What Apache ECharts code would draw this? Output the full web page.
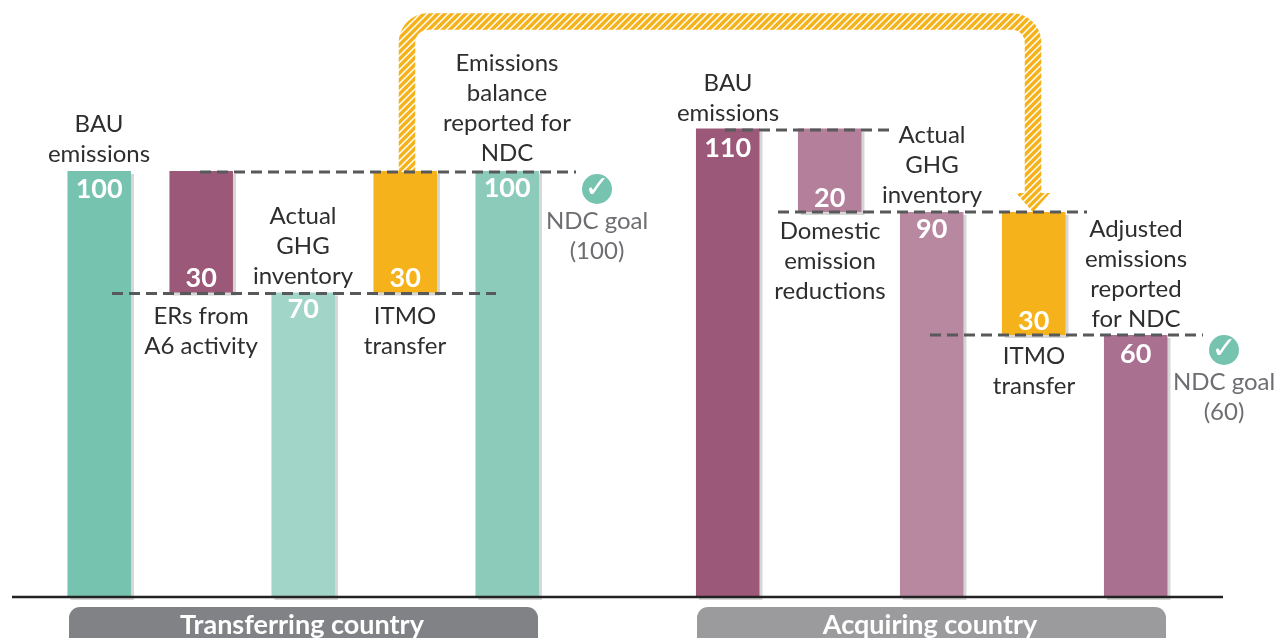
<!DOCTYPE html>
<html>
<head>
<meta charset="utf-8">
<title>ITMO transfer</title>
<script src="https://cdn.jsdelivr.net/npm/echarts@6/dist/echarts.min.js"></script>
<style>
  html, body { margin: 0; padding: 0; background: #fff; }
  #chart { width: 1286px; height: 638px; }
</style>
</head>
<body>
<div id="chart"></div>
<script>
// bar spans (they are schematic, not exactly to scale)
var leftLow = [0, 71.5, 0, 71.5, 0];
var leftHigh = [100, 100, 71.5, 100, 100];
var leftLabels = ['100', '30', '70', '30', '100'];
var rightLow = [0, 90.4, 0, 61.5, 0];
var rightHigh = [110, 110, 90.4, 90.4, 61.5];
var rightLabels = ['110', '20', '90', '30', '60'];

var leftColors = ['#76c3b0', '#9b5878', '#a0d5c7', '#f5b21a', '#8ccbb9'];
var rightColors = ['#9b5878', '#b47f9b', '#b7889f', '#f5b21a', '#aa7090'];
// label sits at top or bottom of the bar
var leftLabelPos = ['insideTop', 'insideBottom', 'insideTop', 'insideBottom', 'insideTop'];
var rightLabelPos = ['insideTop', 'insideBottom', 'insideTop', 'insideBottom', 'insideTop'];
// gap between label and bar edge
var leftLabelGap = [5, 1, 3, 1, 4];
var rightLabelGap = [6, 0, 4, 0, 6];

var chart = echarts.init(document.getElementById('chart'), null, { renderer: 'canvas' });

var FONT = 'Lato, "Open Sans", sans-serif';

// diagonal stripes for the transfer arrow
function hatchPattern() {
  var c = document.createElement('canvas');
  c.width = 7;
  c.height = 7;
  var ctx = c.getContext('2d');
  ctx.fillStyle = '#f5b21a';
  ctx.fillRect(0, 0, 7, 7);
  ctx.strokeStyle = '#fff';
  ctx.lineWidth = 1.5;
  ctx.beginPath();
  ctx.moveTo(-2, 2); ctx.lineTo(2, -2);
  ctx.moveTo(-2, 9); ctx.lineTo(9, -2);
  ctx.moveTo(5, 9); ctx.lineTo(9, 5);
  ctx.stroke();
  return { image: c, repeat: 'repeat' };
}

// arrow route with rounded corners, the graphic component has no plain path type
function arrowRoute(x1, x2, yTop, yStart, yEnd, r) {
  var pts = [[x1, yStart]];
  var i, a;
  for (i = 0; i <= 12; i++) {
    a = Math.PI + (i / 12) * Math.PI / 2;
    pts.push([x1 + r + r * Math.cos(a), yTop + r + r * Math.sin(a)]);
  }
  for (i = 0; i <= 12; i++) {
    a = -Math.PI / 2 + (i / 12) * Math.PI / 2;
    pts.push([x2 - r + r * Math.cos(a), yTop + r + r * Math.sin(a)]);
  }
  pts.push([x2, yEnd]);
  return pts;
}

function baseSeries(name, idx, low) {
  return {
    name: name,
    type: 'bar',
    stack: name,
    xAxisIndex: idx,
    yAxisIndex: idx,
    barWidth: 63.5,
    silent: true,
    itemStyle: { color: 'transparent' },
    data: low
  };
}

function valueSeries(name, idx, low, high, labels, colors, pos, gap) {
  return {
    name: name + ' value',
    type: 'bar',
    stack: name,
    xAxisIndex: idx,
    yAxisIndex: idx,
    barWidth: 63.5,
    data: high.map(function (h, i) {
      return {
        value: h - low[i],
        itemStyle: {
          color: colors[i],
          shadowColor: '#d6d6d6',
          shadowBlur: 0,
          shadowOffsetX: 3,
          shadowOffsetY: 3
        },
        label: {
          show: true,
          position: pos[i],
          distance: gap[i],
          formatter: labels[i],
          color: '#fff',
          fontFamily: FONT,
          fontWeight: 'bold',
          fontSize: 27
        }
      };
    })
  };
}

function note(text, x, y, color) {
  return {
    type: 'text',
    z: 20,
    style: {
      text: text,
      x: x,
      y: y,
      align: 'center',
      verticalAlign: 'middle',
      fill: color || '#2e2e2e',
      fontFamily: FONT,
      fontSize: 24,
      lineHeight: 30
    }
  };
}

function dash(x1, x2, y) {
  return {
    type: 'line',
    z: 15,
    shape: { x1: x1, y1: y, x2: x2, y2: y },
    style: { stroke: '#58595b', lineWidth: 3, lineDash: [11, 6] }
  };
}

function pill(text, x, w, color) {
  return [
    {
      type: 'rect',
      z: 12,
      shape: { x: x, y: 607, width: w, height: 50, r: 11 },
      style: { fill: color }
    },
    {
      type: 'text',
      z: 13,
      style: {
        text: text,
        x: x + w / 2 - 1.5,
        y: 625,
        align: 'center',
        verticalAlign: 'middle',
        fill: '#fff',
        fontFamily: FONT,
        fontWeight: 'bold',
        fontSize: 27
      }
    }
  ];
}

function checkMark(x, y) {
  return [
    { type: 'circle', z: 12, shape: { cx: x, cy: y, r: 15 }, style: { fill: '#76c3b0' } },
    {
      type: 'text',
      z: 13,
      style: {
        text: '\u2713',
        x: x,
        y: y,
        align: 'center',
        verticalAlign: 'middle',
        fill: '#fff',
        fontFamily: 'DejaVu Sans',
        fontSize: 30
      }
    }
  ];
}

var hatch = hatchPattern();

var graphics = [
  // transfer arrow
  {
    type: 'polyline',
    z: 5,
    shape: { points: arrowRoute(407, 1033, 21.5, 172, 196, 21) },
    style: { fill: 'none', stroke: hatch, lineWidth: 16.5, lineJoin: 'round' }
  },
  {
    type: 'polygon',
    z: 5,
    shape: { points: [[1016, 193], [1050, 193], [1033, 212]] },
    style: { fill: hatch }
  },
  // baseline
  {
    type: 'line',
    z: 10,
    shape: { x1: 12, y1: 597, x2: 1223, y2: 597 },
    style: { stroke: '#222', lineWidth: 2.5 }
  },
  dash(200, 576, 172),
  dash(112, 496, 293.5),
  dash(725, 893, 130),
  dash(778, 1087, 212),
  dash(930, 1203, 335),
  note('BAU\nemissions', 99, 139),
  note('Emissions\nbalance\nreported for\nNDC', 507, 108),
  note('Actual\nGHG\ninventory', 303, 246),
  note('ERs from\nA6 activity', 201, 331),
  note('ITMO\ntransfer', 405, 331),
  note('NDC goal\n(100)', 597, 236, '#6d6e71'),
  note('BAU\nemissions', 728, 98),
  note('Actual\nGHG\ninventory', 932, 165),
  note('Domestic\nemission\nreductions', 830, 261),
  note('ITMO\ntransfer', 1034, 371),
  note('Adjusted\nemissions\nreported\nfor NDC', 1136, 274),
  note('NDC goal\n(60)', 1224, 397, '#6d6e71')
].concat(
  pill('Transferring country', 69, 469, '#808285'),
  pill('Acquiring country', 697, 469, '#9b9b9d'),
  checkMark(597, 189),
  checkMark(1224, 350)
);

var hiddenCat = {
  type: 'category',
  data: [0, 1, 2, 3, 4],
  axisLine: { show: false },
  axisTick: { show: false },
  axisLabel: { show: false }
};
var hiddenVal = {
  type: 'value',
  min: 0,
  max: 140,
  axisLine: { show: false },
  axisTick: { show: false },
  axisLabel: { show: false },
  splitLine: { show: false }
};

var option = {
  animation: false,
  backgroundColor: '#fff',
  grid: [
    { left: 48.2, width: 510, top: 0.6, height: 596.4 },
    { left: 676.7, width: 510, top: 0.6, height: 596.4 }
  ],
  xAxis: [
    Object.assign({ gridIndex: 0 }, hiddenCat),
    Object.assign({ gridIndex: 1 }, hiddenCat)
  ],
  yAxis: [
    Object.assign({ gridIndex: 0 }, hiddenVal),
    Object.assign({ gridIndex: 1 }, hiddenVal)
  ],
  series: [
    baseSeries('left', 0, leftLow),
    valueSeries('left', 0, leftLow, leftHigh, leftLabels, leftColors, leftLabelPos, leftLabelGap),
    baseSeries('right', 1, rightLow),
    valueSeries('right', 1, rightLow, rightHigh, rightLabels, rightColors, rightLabelPos, rightLabelGap)
  ],
  graphic: graphics
};

chart.setOption(option);
</script>
</body>
</html>
